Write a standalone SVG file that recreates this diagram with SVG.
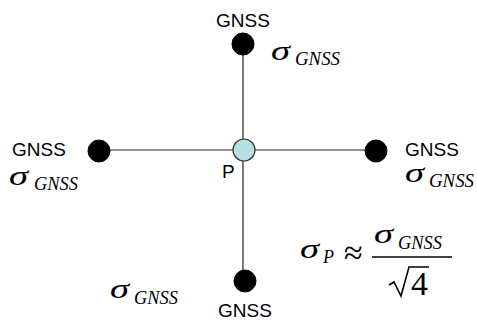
<svg xmlns="http://www.w3.org/2000/svg" width="477" height="320" viewBox="0 0 477 320">
<style>
.lbl{font-family:"Liberation Sans",Arial,sans-serif;font-size:19px;fill:#000}
.sig{font-family:"Liberation Serif","Times New Roman",serif;font-style:italic;font-size:28px;fill:#000}
.sub{font-family:"Liberation Serif","Times New Roman",serif;font-style:italic;font-size:18px;fill:#000}
.num{font-family:"Liberation Serif","Times New Roman",serif;font-size:34px;fill:#000}
.node{fill:#000;stroke:#000}
.edge{stroke:#222;stroke-width:1.2;fill:none}
</style>
<rect width="477" height="320" fill="#fff"/>
<g id="connectors">
<line class="edge" x1="243" y1="44" x2="243" y2="282"/>
<line class="edge" x1="100" y1="150" x2="376" y2="150"/>
</g>
<g id="P">
<circle cx="244" cy="150" r="11" fill="#b8dfe3" stroke="#333" stroke-width="1.2"/>
<text class="lbl" x="222" y="178" font-size="18">P</text>
</g>
<g id="gnss-top">
<circle class="node" cx="243" cy="44" r="11"/>
<text class="lbl" x="243" y="27" text-anchor="middle">GNSS</text>
<text class="sig" x="271" y="60" textLength="19" lengthAdjust="spacingAndGlyphs">σ</text><text class="sub" x="295" y="65" textLength="45" lengthAdjust="spacingAndGlyphs">GNSS</text>
</g>
<g id="gnss-left">
<circle class="node" cx="99" cy="151" r="11"/>
<text class="lbl" x="12" y="156">GNSS</text>
<text class="sig" x="9" y="185" textLength="19" lengthAdjust="spacingAndGlyphs">σ</text><text class="sub" x="34" y="190" textLength="44" lengthAdjust="spacingAndGlyphs">GNSS</text>
</g>
<g id="gnss-right">
<circle class="node" cx="376" cy="151" r="11"/>
<text class="lbl" x="405" y="156">GNSS</text>
<text class="sig" x="405" y="182" textLength="19" lengthAdjust="spacingAndGlyphs">σ</text><text class="sub" x="429" y="187" textLength="45" lengthAdjust="spacingAndGlyphs">GNSS</text>
</g>
<g id="gnss-bottom">
<circle class="node" cx="245" cy="281" r="11"/>
<text class="lbl" x="245" y="317" text-anchor="middle">GNSS</text>
<text class="sig" x="110" y="298" textLength="19" lengthAdjust="spacingAndGlyphs">σ</text><text class="sub" x="134" y="304" textLength="44" lengthAdjust="spacingAndGlyphs">GNSS</text>
</g>
<g id="formula">
<text class="sig" x="300" y="258" textLength="19" lengthAdjust="spacingAndGlyphs">σ</text><text class="sub" x="323" y="263">P</text>
<text class="num" x="344" y="264" font-size="31">≈</text>
<text class="sig" x="374" y="243" textLength="19" lengthAdjust="spacingAndGlyphs">σ</text><text class="sub" x="398" y="249" textLength="44" lengthAdjust="spacingAndGlyphs">GNSS</text>
<line x1="372" y1="257" x2="452" y2="257" stroke="#000" stroke-width="1.3"/>
<path d="M389,285 L394,282 L401,296 L409,267 L429,267" fill="none" stroke="#000" stroke-width="1.6"/>
<text class="num" x="411" y="295">4</text>
</g>
</svg>
